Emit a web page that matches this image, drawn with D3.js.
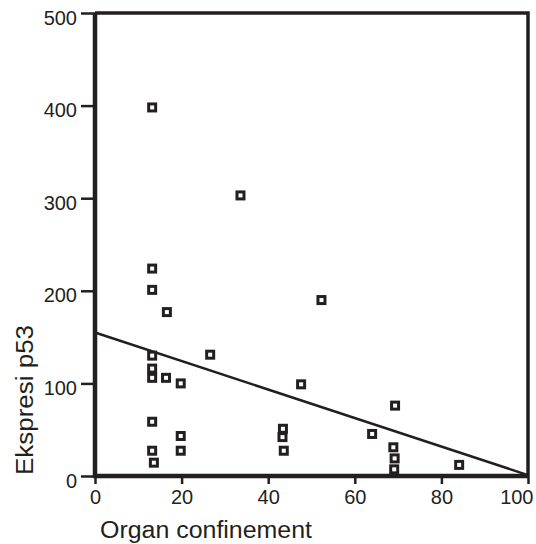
<!DOCTYPE html>
<html>
<head>
<meta charset="utf-8">
<script src="https://cdn.jsdelivr.net/npm/d3@7"></script>
<style>
  body { margin: 0; background: #fff; }
  text { font-family: "Liberation Sans", Arial, sans-serif; fill: #231f20; }
</style>
</head>
<body>
<svg id="chart" width="536" height="544"></svg>
<script>
// organ confinement (x) vs p53 expression (y)
const confinement = [13.2, 13.2, 13.2, 16.6, 13.2, 13.2, 13.2, 16.4, 19.8, 13.2, 13.2, 13.6, 19.8, 19.8,
                     33.6, 52.3, 26.6, 47.6, 69.3, 43.4, 43.3, 43.6, 64.0, 68.9, 69.2, 69.1, 84.1];
const p53 = [398, 224, 201, 177, 130, 116, 106, 106, 100, 58.6, 27.3, 14.4, 43.2, 27.3,
             303, 190, 131, 99, 76, 51, 42, 27.3, 45.4, 31, 19, 7.2, 12];
const fitLine = [{x: 0, y: 155}, {x: 100, y: 1}];
const xTicks = [0, 20, 40, 60, 80, 100];
const yTicks = [0, 100, 200, 300, 400, 500];

const ink = '#231f20';
const svg = d3.select('#chart');

const x = d3.scaleLinear().domain([0, 100]).range([95, 528]);
const y = d3.scaleLinear().domain([0, 500]).range([476, 13]);

// y axis ticks + labels
const yAxis = svg.append('g')
    .attr('transform', `translate(${x(0)},0)`)
    .call(d3.axisLeft(y).tickValues(yTicks).tickSize(14).tickPadding(4));
yAxis.select('.domain').remove();
yAxis.selectAll('line').attr('stroke', ink).attr('stroke-width', 2.5);
yAxis.selectAll('text').attr('font-size', 20).attr('dy', '0.55em').attr('fill', ink)
    .style('font-family', '"Liberation Sans", Arial, sans-serif');

// x axis ticks + labels
const xAxis = svg.append('g')
    .attr('transform', `translate(0,${y(0)})`)
    .call(d3.axisBottom(x).tickValues(xTicks).tickSize(8).tickPadding(6));
xAxis.select('.domain').remove();
xAxis.selectAll('line').attr('stroke', ink).attr('stroke-width', 2.5);
xAxis.selectAll('text').attr('font-size', 20).attr('dy', '0.72em').attr('fill', ink)
    .style('font-family', '"Liberation Sans", Arial, sans-serif');
// last label sits flush with the right edge, like the original
xAxis.selectAll('text').filter(d => d === 100)
    .attr('text-anchor', 'end').attr('x', 5);

// frame: heavy left + bottom, lighter top + right
svg.append('path')
    .attr('d', `M${x(0)},${y(500)}L${x(0)},${y(0)}L${x(100)},${y(0)}`)
    .attr('fill', 'none').attr('stroke', ink).attr('stroke-width', 4.5);
svg.append('path')
    .attr('d', `M${x(0)},${y(500)}L${x(100)},${y(500)}L${x(100)},${y(0)}`)
    .attr('fill', 'none').attr('stroke', ink).attr('stroke-width', 3.5);

// regression line
svg.append('path')
    .datum(fitLine)
    .attr('d', d3.line().x(d => x(d.x)).y(d => y(d.y)))
    .attr('fill', 'none').attr('stroke', ink).attr('stroke-width', 2.5);

// points
const pts = confinement.map((c, i) => ({x: c, y: p53[i]}));
svg.selectAll('rect.pt')
    .data(pts)
    .join('rect')
    .attr('class', 'pt')
    .attr('x', d => x(d.x) - 3.5)
    .attr('y', d => y(d.y) - 3.5)
    .attr('width', 7)
    .attr('height', 7)
    .attr('fill', '#fff')
    .attr('stroke', ink)
    .attr('stroke-width', 3);

// axis titles
svg.append('text')
    .attr('x', 100).attr('y', 538)
    .attr('font-size', 23)
    .attr('textLength', 212).attr('lengthAdjust', 'spacingAndGlyphs')
    .text('Organ confinement');

svg.append('text')
    .attr('transform', 'translate(33,400) rotate(-90)')
    .attr('text-anchor', 'middle')
    .attr('font-size', 23)
    .attr('textLength', 150).attr('lengthAdjust', 'spacingAndGlyphs')
    .text('Ekspresi p53');
</script>
</body>
</html>
